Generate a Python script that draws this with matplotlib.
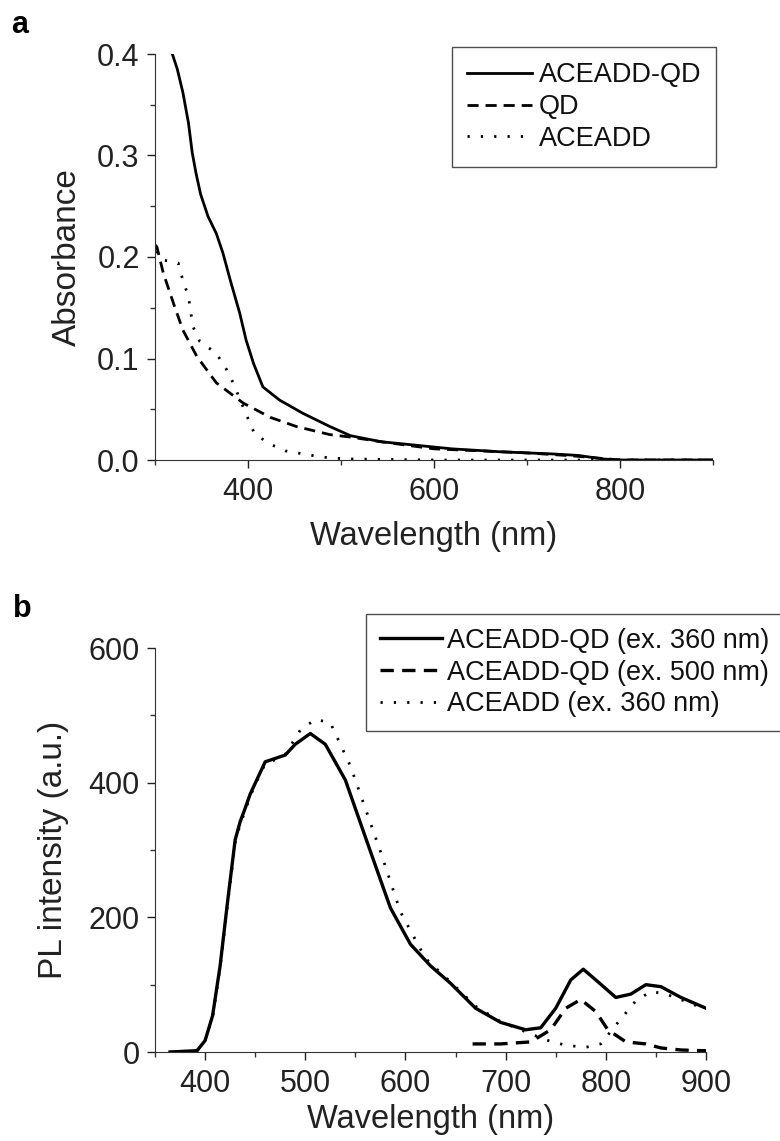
import matplotlib
matplotlib.use('Agg')
import matplotlib.pyplot as plt
import numpy as np
from matplotlib.ticker import MultipleLocator, FormatStrFormatter

plt.rcParams['font.family'] = ['Liberation Sans', 'DejaVu Sans']

# panel a: absorbance spectra
wl_hybrid = [319, 324, 330, 336, 340, 344, 349, 357, 366, 373, 381, 391, 398, 406,
             416, 434, 459, 488, 510, 543, 565, 619, 673, 727, 755, 782, 800, 900]
abs_hybrid = [0.399, 0.385, 0.362, 0.332, 0.303, 0.283, 0.262, 0.240, 0.223, 0.204,
              0.177, 0.145, 0.118, 0.095, 0.072, 0.059, 0.046, 0.033, 0.024, 0.018,
              0.016, 0.011, 0.008, 0.006, 0.0045, 0.001, 0.0, 0.0]

wl_qd = [300, 302, 309, 320, 330, 345, 366, 395, 424, 452, 488, 510, 543, 600, 700, 750, 800, 900]
abs_qd = [0.212, 0.210, 0.184, 0.154, 0.128, 0.102, 0.076, 0.056, 0.042, 0.033, 0.025,
          0.0226, 0.018, 0.011, 0.007, 0.004, 0.0, 0.0]

wl_dye = [300, 302, 309, 325, 330, 336, 338, 341, 348, 366, 377, 384, 399, 407, 423,
          440, 472, 488, 510, 600, 900]
abs_dye = [0.205, 0.204, 0.197, 0.194, 0.177, 0.161, 0.148, 0.131, 0.117, 0.105, 0.089,
           0.076, 0.043, 0.026, 0.016, 0.009, 0.004, 0.002, 0.001, 0.0, 0.0]

# panel b: PL spectra
wl_pl360 = [365, 392, 400, 407.5, 415, 422.5, 430, 435, 440, 445, 450, 455, 460, 470,
            480, 490, 505, 520, 540, 565, 585, 605, 625, 645, 670, 695, 720, 735, 750,
            765, 777.5, 790, 810, 825, 840, 855, 875, 900]
pl_hybrid360 = [0, 2, 17, 54, 128, 224, 315, 342, 362, 383, 399, 415, 431, 436,
                441, 457, 473, 457, 404, 298, 214, 160, 128, 102, 65, 44, 33, 36, 65,
                107, 123, 107, 81, 86, 100, 97, 81, 65]

wl_pl500 = [667, 695, 725, 745, 760, 775, 790, 802, 820, 840, 855, 875, 895, 900]
pl_hybrid500 = [12, 12, 15, 33, 65, 78, 60, 33, 15, 12, 6, 3, 2, 2]

wl_dye360 = [365, 392, 400, 407.5, 415, 422.5, 430, 435, 440, 445, 450, 455, 460, 470,
             480, 495, 510, 525, 545, 575, 595, 620, 645, 670, 695, 720, 740, 760, 780,
             795, 810, 820, 830, 845, 860, 880, 900]
pl_dye360 = [0, 2, 17, 52, 125, 220, 311, 338, 358, 380, 397, 413, 428, 434,
             442, 478, 494, 489, 425, 298, 208, 139, 104, 68, 45, 30, 18, 10, 7,
             12, 40, 58, 76, 90, 86, 75, 63]

fig = plt.figure(figsize=(7.8, 11.41), dpi=100)

W, H = 780.0, 1141.0
ax1 = fig.add_axes([155 / W, 1 - 460 / H, 558 / W, 406 / H])
ax2 = fig.add_axes([155 / W, 1 - 1052 / H, 551 / W, 404 / H])

lw = 2.0
ax1.plot(wl_hybrid, abs_hybrid, color='black', lw=lw, label='ACEADD-QD')
ax1.plot(wl_qd, abs_qd, color='black', lw=lw, ls=(0, (4, 2.5)), label='QD')
ax1.plot(wl_dye, abs_dye, color='black', lw=lw, ls=(0, (0.8, 4)), label='ACEADD')

ax2.plot(wl_pl360, pl_hybrid360, color='black', lw=2.4, label='ACEADD-QD (ex. 360 nm)')
ax2.plot(wl_pl500, pl_hybrid500, color='black', lw=2.4, ls=(0, (4, 2.5)),
         label='ACEADD-QD (ex. 500 nm)')
ax2.plot(wl_dye360, pl_dye360, color='black', lw=2.0, ls=(0, (0.8, 4)),
         label='ACEADD (ex. 360 nm)')

ax1.set_xlim(300, 900)
ax1.set_ylim(0, 0.4)
ax1.xaxis.set_major_locator(MultipleLocator(200))
ax1.xaxis.set_minor_locator(MultipleLocator(100))
ax1.yaxis.set_major_locator(MultipleLocator(0.1))
ax1.yaxis.set_minor_locator(MultipleLocator(0.05))
ax1.yaxis.set_major_formatter(FormatStrFormatter('%.1f'))

ax2.set_xlim(350, 900)
ax2.set_ylim(0, 600)
ax2.xaxis.set_major_locator(MultipleLocator(100))
ax2.xaxis.set_minor_locator(MultipleLocator(50))
ax2.yaxis.set_major_locator(MultipleLocator(200))
ax2.yaxis.set_minor_locator(MultipleLocator(100))

for ax in (ax1, ax2):
    ax.spines['top'].set_visible(False)
    ax.spines['right'].set_visible(False)
    ax.spines['left'].set_color('#333333')
    ax.spines['bottom'].set_color('#333333')
    ax.tick_params(which='major', direction='out', length=6, width=1,
                   labelsize=22, pad=5, colors='#222222')
    ax.tick_params(axis='x', which='major', pad=6)
    ax.tick_params(which='minor', direction='out', length=3.5, width=1, colors='#333333')

ax1.set_xlabel('Wavelength (nm)', fontsize=23.5, color='#222222', labelpad=10)
ax2.set_xlabel('Wavelength (nm)', fontsize=23.5, color='#222222', labelpad=4)
ax1.set_ylabel('Absorbance', fontsize=24, color='#222222', labelpad=10)
ax2.set_ylabel('PL intensity (a.u.)', fontsize=24, color='#222222', labelpad=14)

leg1 = ax1.legend(loc='center', bbox_to_anchor=(584 / W, 1 - 107 / H),
                  bbox_transform=fig.transFigure, fontsize=19.5, frameon=True,
                  fancybox=False, handlelength=2.4, handletextpad=0.25,
                  labelspacing=0.22, borderpad=0.55)
leg2 = ax2.legend(loc='upper left', bbox_to_anchor=(366 / W, 1 - 614 / H),
                  bbox_transform=fig.transFigure, fontsize=19.5, frameon=True,
                  fancybox=False, handlelength=2.3, handletextpad=0.2,
                  labelspacing=0.22, borderpad=0.5, borderaxespad=0)
for leg in (leg1, leg2):
    leg.get_frame().set_edgecolor('#222222')
    leg.get_frame().set_linewidth(1.0)
    for t in leg.get_texts():
        t.set_color('#111111')

fig.text(20 / W, 1 - 25 / H, 'a', fontsize=22, fontweight='bold', ha='center', va='center')
fig.text(22 / W, 1 - 609 / H, 'b', fontsize=22, fontweight='bold', ha='center', va='center')

fig.savefig('out.png', dpi=100)
